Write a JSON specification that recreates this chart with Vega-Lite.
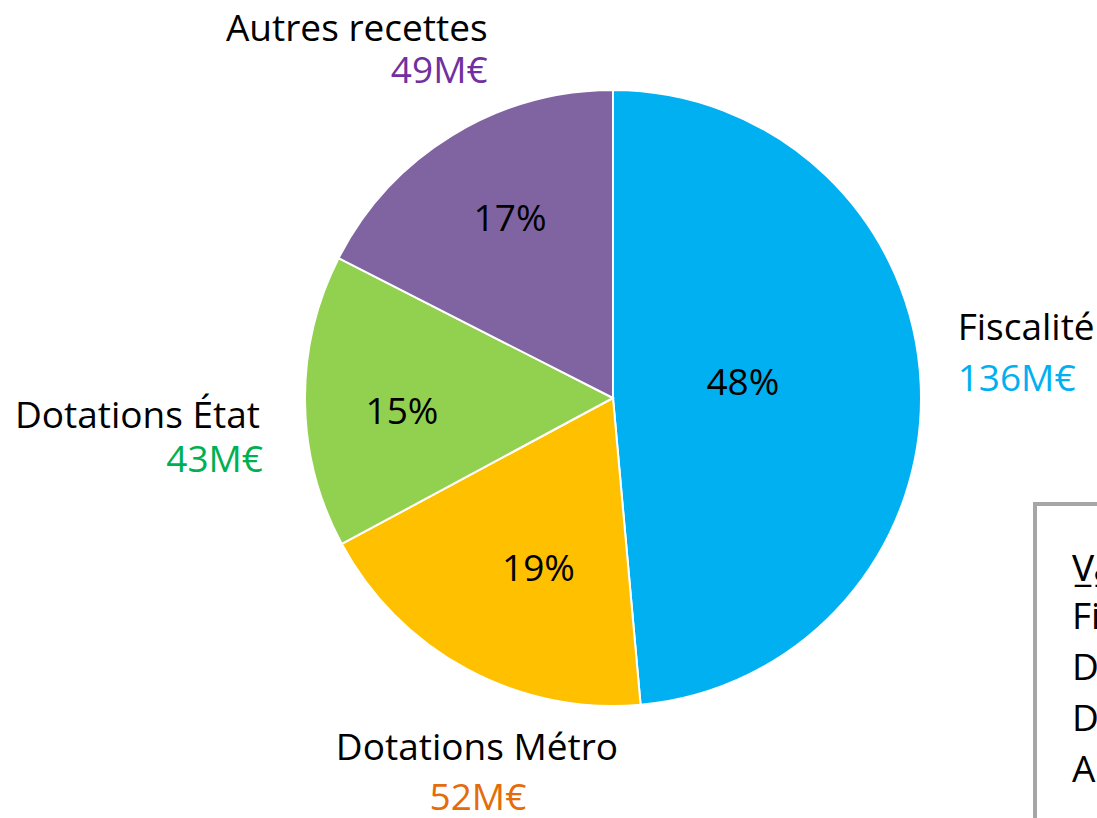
{
  "$schema": "https://vega.github.io/schema/vega-lite/v6.json",
  "autosize": "none",
  "width": 968,
  "height": 796,
  "padding": {"left": 129, "top": 0, "right": 0, "bottom": 22},
  "background": "white",
  "config": {"view": {"stroke": null}, "font": "Open Sans", "legend": {"strokeWidth": 4}, "text": {"fontSize": 37}},
  "data": {"values": [
    {"poste": "Fiscalité", "montant": 136, "pct": "48%", "valeur": "136M€", "ordre": 1},
    {"poste": "Dotations Métro", "montant": 52, "pct": "19%", "valeur": "52M€", "ordre": 2},
    {"poste": "Dotations État", "montant": 43, "pct": "15%", "valeur": "43M€", "ordre": 3},
    {"poste": "Autres recettes", "montant": 49, "pct": "17%", "valeur": "49M€", "ordre": 4}
  ]},
  "encoding": {
    "theta": {"field": "montant", "type": "quantitative", "stack": true},
    "order": {"field": "ordre", "type": "quantitative"},
    "detail": {"field": "poste", "type": "nominal"}
  },
  "layer": [
    {
      "mark": {"type": "arc", "outerRadius": 308, "stroke": "white", "strokeWidth": 2},
      "encoding": {
        "color": {
          "field": "poste", "type": "nominal",
          "scale": {"domain": ["Fiscalité", "Dotations Métro", "Dotations État", "Autres recettes"],
                    "range": ["#00B0F0", "#FFC000", "#92D050", "#8064A2"]},
          "legend": {
            "orient": "none", "legendX": 906, "legendY": 504,
            "title": "V̲a̲r̲i̲a̲t̲i̲o̲n̲",
            "titleFont": "Noto Sans, DejaVu Sans", "titleFontSize": 37, "titleFontWeight": "normal", "titleColor": "black",
            "titleBaseline": "line-top", "titleLineHeight": 58, "titlePadding": 21,
            "labelFont": "Open Sans", "labelFontSize": 37, "labelColor": "black",
            "labelLimit": 0, "labelOffset": -37,
            "symbolSize": 0, "symbolOpacity": 0, "symbolStrokeWidth": 0,
            "rowPadding": 13, "padding": 37,
            "strokeColor": "#A6A6A6"
          }
        }
      }
    },
    {
      "mark": {"type": "text", "radius": 130, "align": "center", "baseline": "alphabetic", "dy": 3},
      "encoding": {"text": {"condition": {"test": "datum.poste === 'Fiscalité'", "field": "pct"}, "value": ""}, "color": {"value": "black"}}
    },
    {
      "mark": {"type": "text", "radius": 170, "align": "center", "baseline": "alphabetic", "dx": 6, "dy": 33},
      "encoding": {"text": {"condition": {"test": "datum.poste === 'Dotations Métro'", "field": "pct"}, "value": ""}, "color": {"value": "black"}}
    },
    {
      "mark": {"type": "text", "radius": 212, "align": "center", "baseline": "alphabetic", "dx": 1, "dy": 24},
      "encoding": {"text": {"condition": {"test": "datum.poste === 'Dotations État'", "field": "pct"}, "value": ""}, "color": {"value": "black"}}
    },
    {
      "mark": {"type": "text", "radius": 197, "align": "center", "baseline": "alphabetic", "dy": 1},
      "encoding": {"text": {"condition": {"test": "datum.poste === 'Autres recettes'", "field": "pct"}, "value": ""}, "color": {"value": "black"}}
    },
    {
      "mark": {"type": "text", "radius": 345, "align": "left", "baseline": "alphabetic", "dy": -43},
      "encoding": {"text": {"condition": {"test": "datum.poste === 'Fiscalité'", "field": "poste"}, "value": ""}, "color": {"value": "black"}}
    },
    {
      "mark": {"type": "text", "radius": 345, "align": "left", "baseline": "alphabetic", "dy": 8},
      "encoding": {"text": {"condition": {"test": "datum.poste === 'Fiscalité'", "field": "valeur"}, "value": ""}, "color": {"value": "#00B0F0"}}
    },
    {
      "mark": {"type": "text", "radius": 380, "align": "center", "baseline": "alphabetic", "dx": 44, "dy": 27},
      "encoding": {"text": {"condition": {"test": "datum.poste === 'Dotations Métro'", "field": "poste"}, "value": ""}, "color": {"value": "black"}}
    },
    {
      "mark": {"type": "text", "radius": 380, "align": "center", "baseline": "alphabetic", "dx": 45, "dy": 77},
      "encoding": {"text": {"condition": {"test": "datum.poste === 'Dotations Métro'", "field": "valeur"}, "value": ""}, "color": {"value": "#E46C0A"}}
    },
    {
      "mark": {"type": "text", "radius": 350, "align": "right", "baseline": "alphabetic", "dx": -3, "dy": 26},
      "encoding": {"text": {"condition": {"test": "datum.poste === 'Dotations État'", "field": "poste"}, "value": ""}, "color": {"value": "black"}}
    },
    {
      "mark": {"type": "text", "radius": 350, "align": "right", "baseline": "alphabetic", "dx": 0, "dy": 70},
      "encoding": {"text": {"condition": {"test": "datum.poste === 'Dotations État'", "field": "valeur"}, "value": ""}, "color": {"value": "#00B050"}}
    },
    {
      "mark": {"type": "text", "radius": 330, "align": "right", "baseline": "alphabetic", "dx": 47, "dy": -76},
      "encoding": {"text": {"condition": {"test": "datum.poste === 'Autres recettes'", "field": "poste"}, "value": ""}, "color": {"value": "black"}}
    },
    {
      "mark": {"type": "text", "radius": 330, "align": "right", "baseline": "alphabetic", "dx": 47, "dy": -34},
      "encoding": {"text": {"condition": {"test": "datum.poste === 'Autres recettes'", "field": "valeur"}, "value": ""}, "color": {"value": "#7030A0"}}
    }
  ]
}
